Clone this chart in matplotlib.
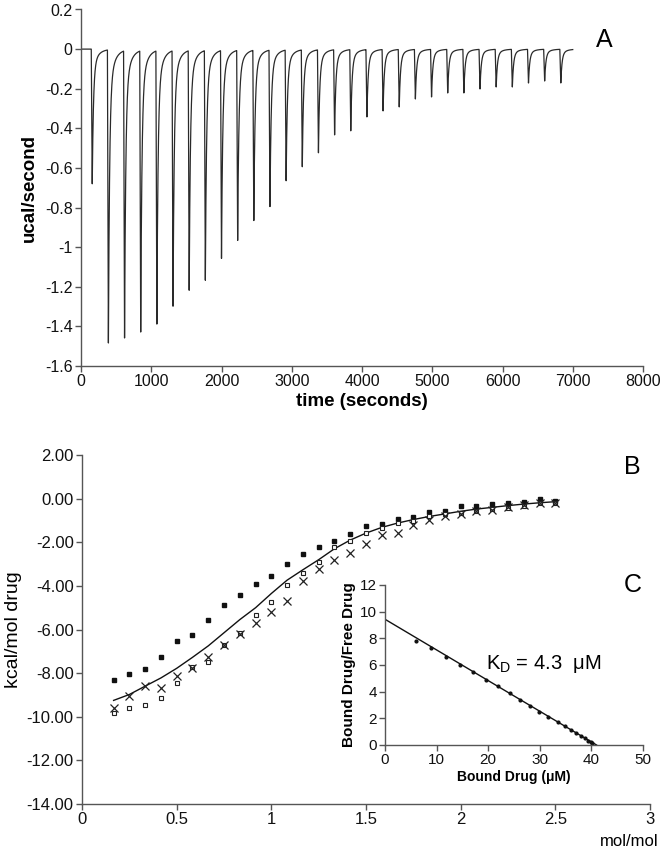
import numpy as np
import matplotlib
matplotlib.use("Agg")
import matplotlib.pyplot as plt

plt.rcParams['font.family'] = ['Liberation Sans', 'DejaVu Sans']
plt.rcParams['axes.unicode_minus'] = False
plt.rcParams['mathtext.fontset'] = 'custom'
plt.rcParams['mathtext.rm'] = 'Liberation Sans'
plt.rcParams['mathtext.it'] = 'Liberation Sans:italic'

# ---------------- Panel A: raw thermogram ----------------
inj_times = [160, 390, 620, 850, 1080, 1310, 1540, 1770, 2000, 2230,
             2460, 2690, 2920, 3150, 3380, 3610, 3840, 4070, 4300, 4530,
             4760, 4990, 5220, 5450, 5680, 5910, 6140, 6370, 6600, 6830]
peak_depths = [-0.68, -1.48, -1.45, -1.42, -1.38, -1.29, -1.21, -1.16, -1.05, -0.96,
               -0.86, -0.79, -0.66, -0.59, -0.52, -0.43, -0.41, -0.34, -0.31, -0.29,
               -0.25, -0.24, -0.22, -0.22, -0.20, -0.19, -0.19, -0.17, -0.16, -0.17]
trace_end = 7000
a_yticks = [-1.6, -1.4, -1.2, -1.0, -0.8, -0.6, -0.4, -0.2, 0.0, 0.2]
a_yticklabels = ['-1.6', '-1.4', '-1.2', '-1', '-0.8', '-0.6', '-0.4', '-0.2', '0', '0.2']

# ---------------- Panel B: integrated heats ----------------
molratio = [0.167, 0.25, 0.333, 0.417, 0.5, 0.583, 0.667, 0.75, 0.833, 0.917,
            1.0, 1.083, 1.167, 1.25, 1.333, 1.417, 1.5, 1.583, 1.667, 1.75,
            1.833, 1.917, 2.0, 2.083, 2.167, 2.25, 2.333, 2.417, 2.5]
heat_filled = [-8.32, -8.04, -7.80, -7.27, -6.51, -6.23, -5.56, -4.88, -4.43, -3.90,
               -3.56, -2.99, -2.55, -2.23, -1.93, -1.60, -1.27, -1.18, -0.92, -0.86,
               -0.63, -0.57, -0.32, -0.34, -0.25, -0.19, -0.15, -0.02, -0.10]
heat_open = [-9.85, -9.62, -9.47, -9.13, -8.47, -7.72, -7.51, -6.72, -6.15, -5.35,
             -4.75, -3.95, -3.41, -2.90, -2.23, -1.93, -1.57, -1.36, -1.11, -1.01,
             -0.78, -0.72, -0.67, -0.55, -0.49, -0.41, -0.34, -0.21, -0.21]
heat_cross = [-9.60, -9.05, -8.59, -8.67, -8.13, -7.75, -7.26, -6.70, -6.21, -5.68,
              -5.20, -4.68, -3.76, -3.21, -2.83, -2.50, -2.06, -1.68, -1.56, -1.21,
              -0.98, -0.80, -0.72, -0.55, -0.52, -0.37, -0.29, -0.21, -0.21]
heat_fit = [-9.25, -8.98, -8.60, -8.22, -7.78, -7.28, -6.75, -6.15, -5.55, -5.00,
            -4.35, -3.74, -3.26, -2.80, -2.30, -1.90, -1.58, -1.32, -1.12, -0.96,
            -0.82, -0.70, -0.58, -0.48, -0.40, -0.32, -0.25, -0.19, -0.14]

# ---------------- Panel C: Scatchard inset ----------------
bound = [6.1, 9.0, 11.9, 14.6, 17.1, 19.5, 21.9, 24.2, 26.1, 28.1,
         29.9, 31.6, 33.5, 34.8, 36.0, 37.1, 37.9, 38.7, 39.4, 39.9, 40.2]
bound_free = [7.8, 7.25, 6.6, 6.0, 5.45, 4.9, 4.4, 3.9, 3.4, 2.95,
              2.5, 2.1, 1.7, 1.4, 1.1, 0.9, 0.7, 0.5, 0.3, 0.2, 0.15]
scat_fit_x = [0, 41.0]
scat_fit_y = [9.43, 0.0]

W, H = 662, 852
fig = plt.figure(figsize=(W / 100, H / 100), dpi=100)

def ax_rect(l, r, t, b):
    return [l / W, 1 - b / H, (r - l) / W, (b - t) / H]

spine_c = '#555555'

def style(ax, fs):
    for s in ['top', 'right']:
        ax.spines[s].set_visible(False)
    for s in ['left', 'bottom']:
        ax.spines[s].set_color(spine_c)
        ax.spines[s].set_linewidth(1.0)
    ax.tick_params(direction='out', length=4, width=1.0, color=spine_c,
                   labelsize=fs, labelcolor='#111111', pad=2)

# ---- A ----
axA = fig.add_axes(ax_rect(81, 643, 9.5, 366))
t = np.arange(0, trace_end + 1, 1.0)
sig = np.zeros_like(t)
for ti, a in zip(inj_times, peak_depths):
    dt = t - ti
    rise = (dt > -14) & (dt <= 0)
    sig[rise] += a * (dt[rise] + 14) / 14
    dec = dt > 0
    sig[dec] += a * (0.85 * np.exp(-dt[dec] / 17.0) + 0.15 * np.exp(-dt[dec] / 70.0))
axA.plot(t, sig, color='#2a2a2a', lw=0.9)
axA.set_xlim(0, 8000)
axA.set_ylim(-1.6, 0.2)
axA.set_xticks(np.arange(0, 8001, 1000))
axA.set_yticks(a_yticks)
axA.set_yticklabels(a_yticklabels)
style(axA, 11.5)
axA.set_xlabel('time (seconds)', fontsize=13.5, fontweight='bold', labelpad=3)
axA.set_ylabel('ucal/second', fontsize=13.5, fontweight='bold', labelpad=5)
fig.text(604 / W, 1 - 40 / H, 'A', fontsize=18, ha='center', va='center')

# ---- B ----
axB = fig.add_axes(ax_rect(82, 650, 455, 804))
axB.plot(molratio, heat_fit, color='#111111', lw=1.0)
axB.plot(molratio, heat_filled, ls='none', marker='s', ms=3.3, mfc='#111111', mec='#111111')
axB.plot(molratio, heat_open, ls='none', marker='s', ms=3.0, mfc='white', mec='#222222', mew=0.8)
axB.plot(molratio, heat_cross, ls='none', marker='x', ms=5.5, mec='#222222', mew=0.9)
axB.set_xlim(0, 3)
axB.set_ylim(-14, 2)
axB.set_xticks([0, 0.5, 1, 1.5, 2, 2.5, 3])
axB.set_xticklabels(['0', '0.5', '1', '1.5', '2', '2.5', '3'])
axB.set_yticks(np.arange(-14, 2.1, 2))
axB.set_yticklabels(['%.2f' % v for v in np.arange(-14, 2.1, 2)])
style(axB, 12)
axB.set_ylabel('kcal/mol drug', fontsize=14, labelpad=3)
fig.text(659 / W, 1 - 842 / H, 'mol/mol', fontsize=12, ha='right', va='center')
fig.text(632 / W, 1 - 467 / H, 'B', fontsize=18, ha='center', va='center')
fig.text(633 / W, 1 - 585 / H, 'C', fontsize=18, ha='center', va='center')

# ---- C inset ----
axC = fig.add_axes(ax_rect(385, 643, 585, 745))
axC.patch.set_alpha(0)
axC.plot(scat_fit_x, scat_fit_y, color='#111111', lw=1.0)
axC.plot(bound, bound_free, ls='none', marker='o', ms=2.0, mfc='#111111', mec='#111111')
axC.set_xlim(0, 50)
axC.set_ylim(0, 12)
axC.set_xticks(np.arange(0, 51, 10))
axC.set_yticks(np.arange(0, 13, 2))
style(axC, 11)
axC.set_xlabel('Bound Drug (\u03bcM)', fontsize=10, fontweight='bold', labelpad=2)
axC.set_ylabel('Bound Drug/Free Drug', fontsize=11, fontweight='bold', labelpad=3)
axC.text(19.5, 6.1, 'K$_\\mathrm{D}$ = 4.3  \u03bcM', fontsize=14.5, ha='left', va='center')

fig.savefig('out.png', dpi=100)
